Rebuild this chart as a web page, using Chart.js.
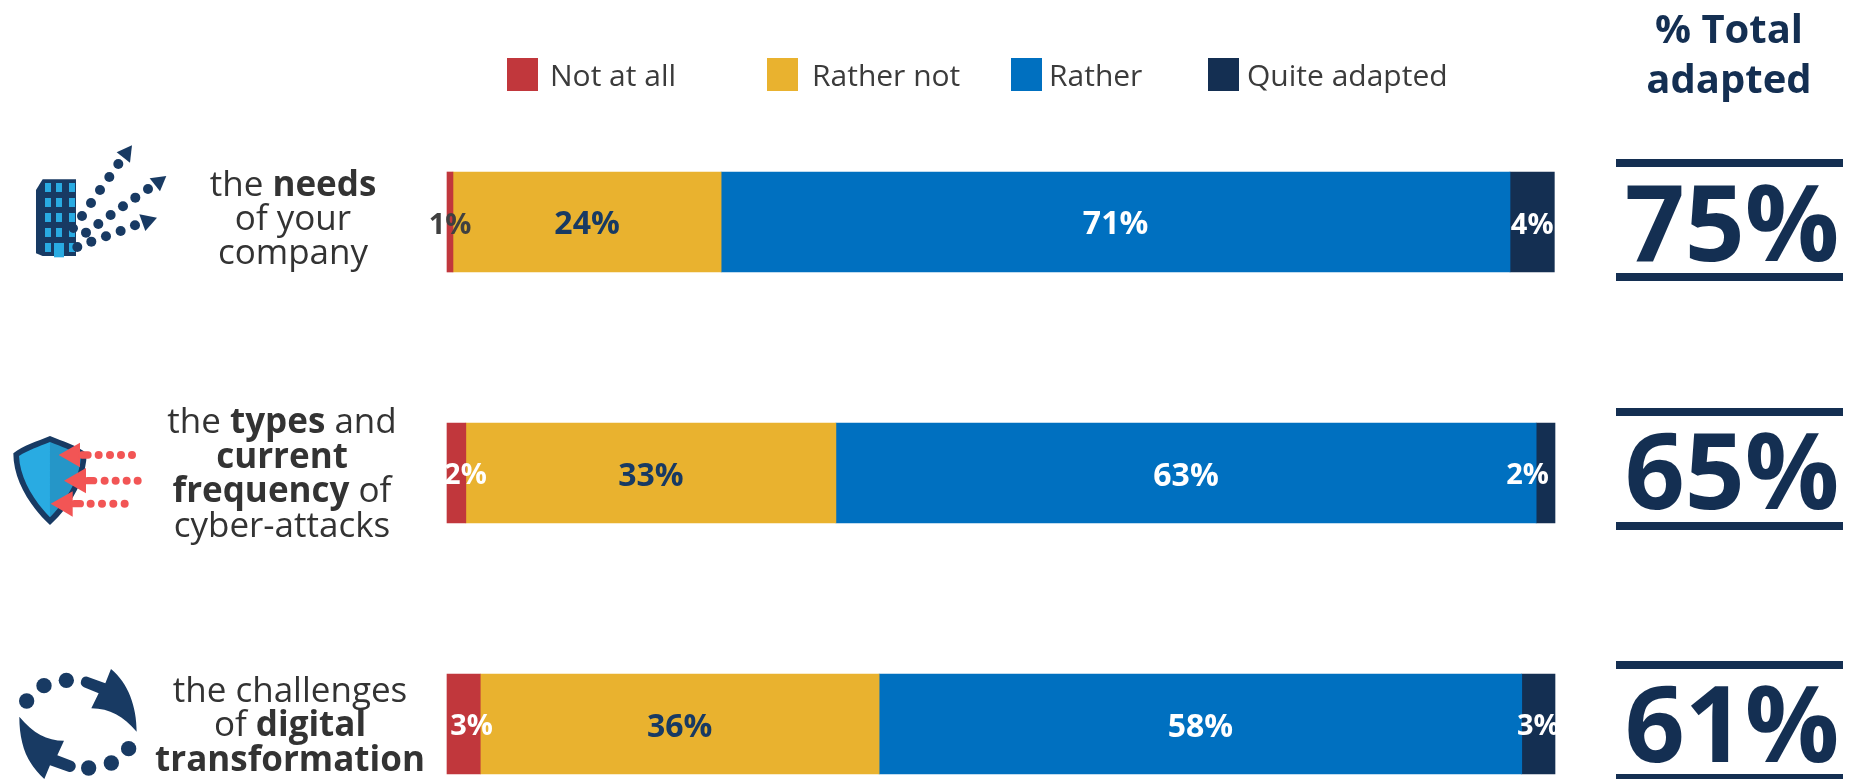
<!DOCTYPE html>
<html>
<head>
<meta charset="utf-8">
<title>Adapted</title>
<script src="https://cdn.jsdelivr.net/npm/chart.js@4/dist/chart.umd.js"></script>
<style>
  html, body { margin: 0; padding: 0; background: #fff; }
  #page { position: relative; width: 1850px; height: 779px; overflow: hidden; font-family: "Open Sans", sans-serif; color: #333; }
  #page canvas { position: absolute; left: 0; top: 0; }
  #icons { position: absolute; left: 0; top: 0; }
  .swatch { position: absolute; width: 31px; height: 33px; top: 58px; }
  .legendText { position: absolute; top: 54px; font-size: 30px; line-height: 42px; white-space: nowrap; color: #3b3b3b; }
  .catLine { position: absolute; transform: translateX(-50%); font-size: 35px; line-height: 40px; white-space: nowrap; }
  .catLine b { font-weight: 700; }
  .head { position: absolute; left: 1729px; transform: translateX(-50%); font-size: 40px; line-height: 50px; font-weight: 700; color: #142f52; white-space: nowrap; }
  .rule { position: absolute; left: 1616px; width: 227px; height: 8px; background: #142f52; }
  .total { position: absolute; left: 1732px; transform: translateX(-50%); font-size: 105px; line-height: 130px; font-weight: 700; color: #142f52; white-space: nowrap; }
</style>
</head>
<body>
<div id="page">
  <canvas id="chart" width="1850" height="779"></canvas>
  <svg id="icons" width="1850" height="779" viewBox="0 0 1850 779">
    <!-- gedung -->
    <g transform="translate(0,120) scale(0.3333)" fill="#183a63">
      <polygon points="108,210 128,178 228,178 228,408 128,408 108,400"/>
      <g fill="#29abe2">
        <rect x="135" y="189" width="18" height="27"/><rect x="168" y="189" width="18" height="27"/><rect x="207" y="189" width="18" height="27"/>
        <rect x="135" y="234" width="18" height="27"/><rect x="168" y="234" width="18" height="27"/><rect x="207" y="234" width="18" height="27"/>
        <rect x="135" y="279" width="18" height="27"/><rect x="168" y="279" width="18" height="27"/><rect x="207" y="279" width="18" height="27"/>
        <rect x="135" y="324" width="18" height="27"/><rect x="168" y="324" width="18" height="27"/><rect x="207" y="324" width="18" height="27"/>
        <rect x="135" y="369" width="18" height="27"/><rect x="162" y="369" width="30" height="43"/><rect x="207" y="369" width="18" height="27"/>
      </g>
      <circle cx="246" cy="288" r="15"/><circle cx="273" cy="249" r="15"/><circle cx="300" cy="210" r="15"/><circle cx="328" cy="171" r="15"/><circle cx="355" cy="132" r="15"/>
      <polygon points="396,76 350,97 390,128"/>
      <circle cx="220" cy="325" r="14"/><circle cx="258" cy="338" r="15"/><circle cx="295" cy="312" r="15"/><circle cx="332" cy="285" r="15"/><circle cx="369" cy="259" r="15"/><circle cx="406" cy="233" r="15"/><circle cx="444" cy="207" r="15"/>
      <polygon points="499,168 449,175 480,214"/>
      <circle cx="232" cy="381" r="15"/><circle cx="274" cy="365" r="15"/><circle cx="318" cy="349" r="15"/><circle cx="362" cy="333" r="15"/><circle cx="405" cy="316" r="15"/>
      <polygon points="418,283 471,293 436,333"/>
    </g>
    <!-- perisai -->
    <g transform="translate(0,400) scale(0.3333)">
      <path d="M150,108 C110,125 70,135 40,160 C40,240 90,320 150,375 C210,320 260,240 260,160 C230,135 190,125 150,108 Z" fill="#183a63"/>
      <path d="M150,126 C115,140 85,150 57,168 C60,235 100,300 150,352 Z" fill="#29abe2"/>
      <path d="M150,126 C185,140 215,150 243,168 C240,235 200,300 150,352 Z" fill="#2596c8"/>
      <g fill="#f25555">
        <polygon points="176,165 240,128 240,202"/><rect x="235" y="154" width="40" height="22" rx="11"/>
        <circle cx="296" cy="165" r="12"/><circle cx="330" cy="165" r="12"/><circle cx="363" cy="165" r="12"/><circle cx="396" cy="165" r="12"/>
        <polygon points="192,242 258,204 258,280"/><rect x="252" y="231" width="40" height="22" rx="11"/>
        <circle cx="314" cy="242" r="12"/><circle cx="347" cy="242" r="12"/><circle cx="380" cy="242" r="12"/><circle cx="413" cy="242" r="12"/>
        <polygon points="152,311 218,274 218,350"/><rect x="212" y="300" width="40" height="22" rx="11"/>
        <circle cx="272" cy="311" r="12"/><circle cx="306" cy="311" r="12"/><circle cx="340" cy="311" r="12"/><circle cx="374" cy="311" r="12"/>
      </g>
    </g>
    <!-- panah putar -->
    <g transform="translate(0,400) scale(0.3333)" fill="#183a63">
      <circle cx="80" cy="903" r="23"/><circle cx="132" cy="857" r="23"/><circle cx="199" cy="841" r="23"/>
      <path d="M333,807 C385,850 410,920 410,995 C370,950 330,925 274,925 L296,880 L252,862 A17,17 0 0 1 262,830 L316,850 Z"/>
      <circle cx="386" cy="1046" r="23"/><circle cx="334" cy="1089" r="23"/><circle cx="266" cy="1104" r="23"/>
      <path d="M133,1137 C80,1090 58,1030 58,950 C100,1000 140,1022 192,1022 L172,1066 L215,1082 A17,17 0 0 1 205,1115 L150,1096 Z"/>
    </g>
  </svg>
</div>

<script>
  const categories = ["the needs of your company", "the types and current frequency of cyber-attacks", "the challenges of digital transformation"];
  const seriesNames = ["Not at all", "Rather not", "Rather", "Quite adapted"];
  const notAtAll = [0.54, 1.7, 3.0];
  const ratherNot = [24.2, 33.4, 36.0];
  const rather = [71.2, 63.2, 58.0];
  const quiteAdapted = [4.0, 1.7, 3.0];
  const totalAdapted = [75, 65, 61];

  // warna
  const seriesColors = ["#c1373c", "#e9b22f", "#0070c0", "#142f52"];
  const labelColors = [["#404040", "#fff", "#fff"], ["#183a63", "#183a63", "#183a63"], ["#fff", "#fff", "#fff"], ["#fff", "#fff", "#fff"]];
  const labelSizes = [29, 32, 32, 29];

  // geser label persen (dx, dy) per seri lalu per baris
  const labelShift = [
    [[0, 12], [9, 11], [8, 11]],
    [[0, 12], [0, 13], [0, 13]],
    [[0, 12], [0, 13], [0, 13]],
    [[0, 12], [-18, 11], [0, 11]]
  ];

  // teks kategori per baris, <b> untuk tebal
  const catLines = [
    ["the <b>needs</b>", "of your", "company"],
    ["the <b>types</b> and", "<b>current</b>", "<b>frequency</b> of", "cyber-attacks"],
    ["the challenges", "of <b>digital</b>", "<b>transformation</b>"]
  ];
  const catCenter = [293, 282, 290];
  const catBaselines = [[197, 231, 265], [434, 469, 503, 538], [703, 737, 772]];

  const legendSwatchX = [507, 767, 1011, 1208];
  const legendTextX = [550, 812, 1049, 1247];

  const ruleTops = [[159, 273], [408, 522], [661, 774]];
  const totalBaselines = [262, 510, 763];

  const page = document.getElementById("page");

  function addDiv(cls, html, css) {
    const d = document.createElement("div");
    d.className = cls;
    d.innerHTML = html;
    Object.assign(d.style, css);
    page.appendChild(d);
  }

  // legenda
  seriesNames.forEach((name, i) => {
    addDiv("swatch", "", { left: legendSwatchX[i] + "px", background: seriesColors[i] });
    addDiv("legendText", name, { left: legendTextX[i] + "px" });
  });

  // label kategori
  catLines.forEach((lines, r) => {
    lines.forEach((line, i) => {
      addDiv("catLine", line, { left: catCenter[r] + "px", top: (catBaselines[r][i] - 34) + "px" });
    });
  });

  // kolom total
  addDiv("head", "% Total", { top: "3px" });
  addDiv("head", "adapted", { top: "53px" });
  totalAdapted.forEach((t, r) => {
    addDiv("rule", "", { top: ruleTops[r][0] + "px" });
    addDiv("rule", "", { top: ruleTops[r][1] + "px" });
    addDiv("total", t + "%", { top: (totalBaselines[r] - 106) + "px" });
  });

  const percentLabels = {
    id: "percentLabels",
    afterDatasetsDraw(chart) {
      const ctx = chart.ctx;
      ctx.save();
      ctx.textAlign = "center";
      ctx.textBaseline = "alphabetic";
      chart.data.datasets.forEach((ds, s) => {
        ctx.font = '700 ' + labelSizes[s] + 'px "Open Sans", sans-serif';
        chart.getDatasetMeta(s).data.forEach((bar, r) => {
          const shift = labelShift[s][r];
          ctx.fillStyle = labelColors[s][r];
          ctx.fillText(Math.round(ds.data[r]) + "%", (bar.x + bar.base) / 2 + shift[0], bar.y + shift[1]);
        });
      });
      ctx.restore();
    }
  };

  const seriesValues = [notAtAll, ratherNot, rather, quiteAdapted];

  new Chart(document.getElementById("chart").getContext("2d"), {
    type: "bar",
    data: {
      labels: categories,
      datasets: seriesNames.map((name, i) => ({
        label: name,
        data: seriesValues[i],
        backgroundColor: seriesColors[i],
        borderWidth: 0,
        barThickness: 100,
        clip: false
      }))
    },
    options: {
      indexAxis: "y",
      responsive: false,
      animation: false,
      layout: { padding: { left: 447, right: 295, top: 222, bottom: 55 } },
      plugins: { legend: { display: false }, tooltip: { enabled: false } },
      scales: {
        x: { stacked: true, min: 0, max: 100, display: false },
        y: { stacked: true, offset: false, display: false }
      }
    },
    plugins: [percentLabels]
  });
</script>
</body>
</html>
